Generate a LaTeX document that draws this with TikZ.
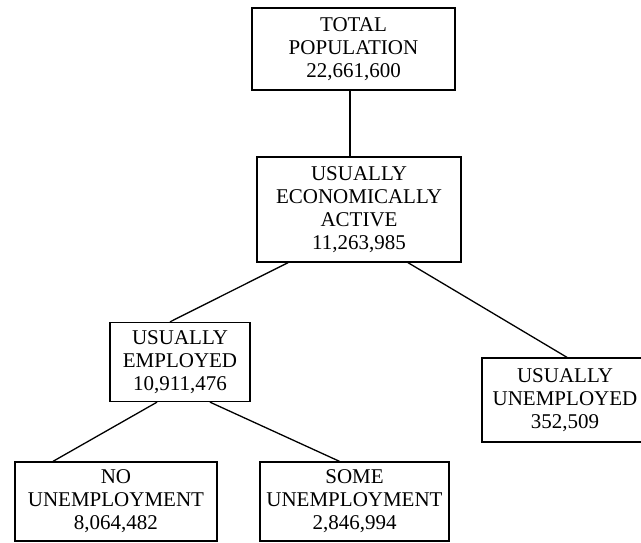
\documentclass[tikz,border=0pt]{standalone}
\usepackage{fontspec}
\setmainfont{Liberation Serif}
\begin{document}
\begin{tikzpicture}[x=1pt,y=-1pt,
  box/.style={draw=black, line width=1.3pt, inner sep=0pt, align=center,
    font=\fontsize{21}{23}\selectfont},
  link/.style={draw=black, line width=1.3pt}]
\useasboundingbox (0,0) rectangle (641,542);
\node[box, minimum width=203pt, minimum height=82pt] (total) at (353.5,49)
  {TOTAL\\POPULATION\\22,661,600};
\node[box, minimum width=204pt, minimum height=105pt] (ea) at (359,209.5)
  {USUALLY\\ECONOMICALLY\\ACTIVE\\11,263,985};
\node[box, minimum width=140pt, minimum height=79pt] (ue) at (180,362)
  {USUALLY\\EMPLOYED\\10,911,476};
\node[box, minimum width=166pt, minimum height=84pt] (uu) at (565,400)
  {USUALLY\\UNEMPLOYED\\352,509};
\node[box, minimum width=202pt, minimum height=79pt] (no) at (116,501.5)
  {NO\\UNEMPLOYMENT\\8,064,482};
\node[box, minimum width=189pt, minimum height=79pt] (some) at (354.5,501.5)
  {SOME\\UNEMPLOYMENT\\2,846,994};
\draw[link] ([xshift=-3.5pt]total.south) -- ([xshift=-9pt]ea.north);
\draw[link] ([xshift=-71pt]ea.south) -- ([xshift=-10pt]ue.north);
\draw[link] ([xshift=49pt]ea.south) -- ([xshift=2pt]uu.north);
\draw[link] ([xshift=-23pt]ue.south) -- ([xshift=-63pt]no.north);
\draw[link] ([xshift=30pt]ue.south) -- ([xshift=-15pt]some.north);
\end{tikzpicture}
\end{document}
